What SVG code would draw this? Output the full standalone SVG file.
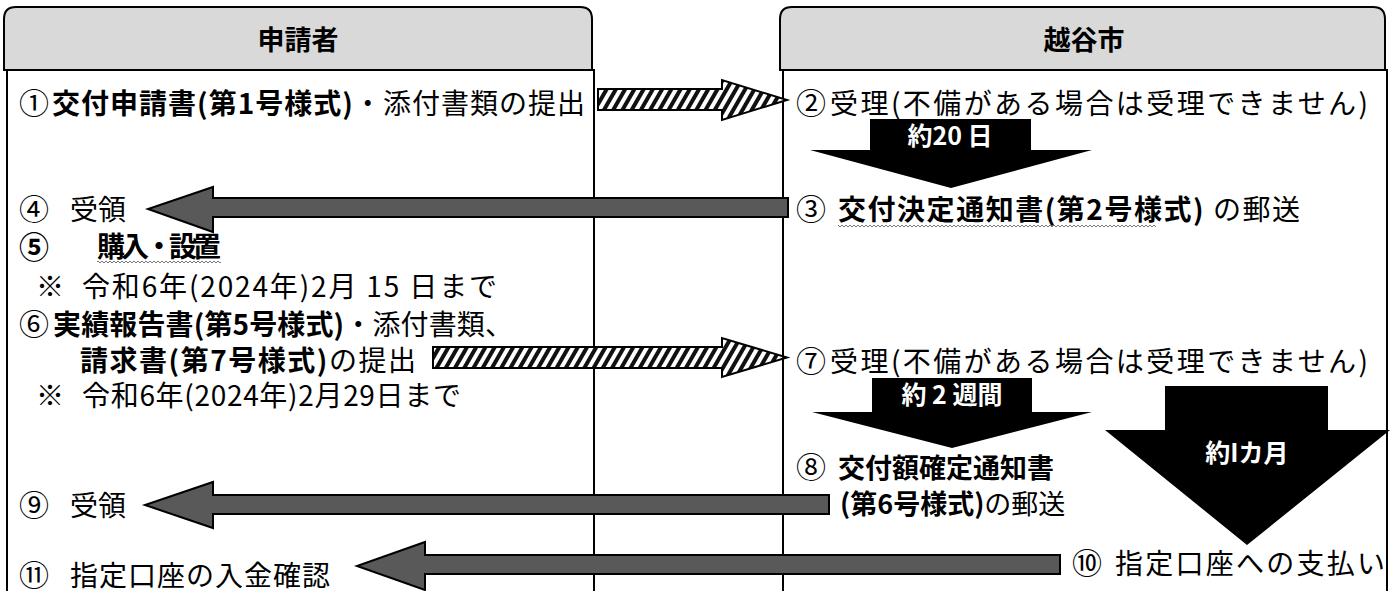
<svg xmlns="http://www.w3.org/2000/svg" width="1393" height="591" viewBox="0 0 1393 591">
<style>
text{font-family:"Noto Sans CJK JP","Noto Sans CJK SC",sans-serif;fill:#000}
.t{font-size:28px}
.c{font-size:30px}
.b{font-weight:bold}
.h{font-size:27px;font-weight:bold}
.lab{font-size:25px;font-weight:bold;fill:#fff}
.box{fill:#fff;stroke:#000;stroke-width:2}
.hdr{fill:#d9d9d9;stroke:#000;stroke-width:2}
.gray{fill:#595959;stroke:#000;stroke-width:2;stroke-linejoin:miter}
.hatch{fill:url(#stripe);stroke:#000;stroke-width:2}
.blk{fill:#000}
</style>
<defs>
<pattern id="stripe" width="8" height="8" patternUnits="userSpaceOnUse" patternTransform="rotate(30)">
<rect width="8" height="8" fill="#fff"/>
<rect width="4" height="8" fill="#111"/>
</pattern>
<pattern id="wave" width="4" height="4" patternUnits="userSpaceOnUse">
<path d="M0 3 L2 1 L4 3" fill="none" stroke="#666" stroke-width="0.9"/>
</pattern>
</defs>
<rect width="1393" height="591" fill="#fff"/>

<g id="lane-left">
<rect class="box" x="7" y="70" width="587" height="540"/>
<path class="hdr" d="M4 70 V19 Q4 7 16 7 H580 Q592 7 592 19 V70 Z"/>
<text class="h" x="298" y="50" text-anchor="middle">申請者</text>
</g>
<g id="lane-right">
<rect class="box" x="783" y="70" width="604" height="540"/>
<path class="hdr" d="M780 70 V19 Q780 7 792 7 H1373 Q1385 7 1385 19 V70 Z"/>
<text class="h" x="1084" y="50" text-anchor="middle">越谷市</text>
</g>

<g id="connectors">
<polygon class="hatch" points="598,89 722,89 722,80 787,100 722,120 722,110 598,110"/>
<polygon class="hatch" points="433,347 722,347 722,338 787,357.5 722,377 722,368 433,368"/>
<polygon class="gray" points="788,198 213,198 213,187 148,209 213,232 213,217 788,217"/>
<polygon class="gray" points="829,495 213,495 213,482 145,505 213,528 213,514 829,514"/>
<polygon class="gray" points="1060,555 425,555 425,542 357,566 425,590 425,574 1060,574"/>
<polygon class="blk" points="870,119 1031,119 1031,150 1092,150 951,188 810,150 870,150"/>
<polygon class="blk" points="872,378 1032,378 1032,412 1092,412 952,448 812,412 872,412"/>
<polygon class="blk" points="1165,386 1328,386 1328,430 1390,430 1247,545 1105,430 1165,430"/>
<text class="lab" x="950" y="145" text-anchor="middle">約20 日</text>
<text class="lab" x="952" y="404" text-anchor="middle">約 2 週間</text>
<text class="lab" x="1247" y="462" text-anchor="middle">約Iカ月</text>
</g>

<g id="step1">
<text class="c" x="19" y="114">①</text>
<text class="t" x="52" y="114" textLength="533" lengthAdjust="spacing"><tspan class="b">交付申請書(第1号様式)</tspan>・添付書類の提出</text>
</g>
<g id="step2">
<text class="c" x="796" y="114">②</text>
<text class="t" x="830" y="114" textLength="538" lengthAdjust="spacing">受理(不備がある場合は受理できません)</text>
</g>
<g id="step3">
<text class="c" x="796" y="220">③</text>
<text class="t" x="838" y="220" textLength="462" lengthAdjust="spacing"><tspan class="b">交付決定通知書(第2号様式)</tspan> の郵送</text>
<rect x="838" y="224" width="318" height="4" fill="url(#wave)"/>
</g>
<g id="step4">
<text class="c" x="19" y="220">④</text>
<text class="t" x="70" y="220">受領</text>
</g>
<g id="step5">
<text class="c b" x="19" y="258">⑤</text>
<text class="t b" x="97" y="257" textLength="124" lengthAdjust="spacing">購入・設置</text>
<rect x="97" y="261" width="124" height="4" fill="url(#wave)"/>
<text class="t" x="36" y="297">※</text>
<text class="t" x="82" y="297" textLength="415" lengthAdjust="spacing">令和6年(2024年)2月 15 日まで</text>
</g>
<g id="step6">
<text class="c" x="19" y="335">⑥</text>
<text class="t" x="53" y="335" textLength="460" lengthAdjust="spacing"><tspan class="b">実績報告書(第5号様式)</tspan>・添付書類、</text>
<text class="t" x="80" y="371" textLength="336" lengthAdjust="spacing"><tspan class="b">請求書(第7号様式)</tspan>の提出</text>
<text class="t" x="36" y="406">※</text>
<text class="t" x="82" y="406" textLength="379" lengthAdjust="spacing">令和6年(2024年)2月29日まで</text>
</g>
<g id="step7">
<text class="c" x="796" y="372">⑦</text>
<text class="t" x="830" y="372" textLength="538" lengthAdjust="spacing">受理(不備がある場合は受理できません)</text>
</g>
<g id="step8">
<text class="c" x="796" y="478">⑧</text>
<text class="b" x="838" y="478" style="font-size:27px">交付額確定通知書</text>
<text class="t" x="840" y="514" style="font-size:27px"><tspan class="b">(第6号様式)</tspan>の郵送</text>
</g>
<g id="step9">
<text class="c" x="19" y="516">⑨</text>
<text class="t" x="70" y="516">受領</text>
</g>
<g id="step10">
<text class="c" x="1072" y="574">⑩</text>
<text class="t" x="1115" y="574" textLength="270" lengthAdjust="spacing">指定口座への支払い</text>
</g>
<g id="step11">
<text class="c" x="19" y="586">⑪</text>
<text class="t" x="70" y="586" textLength="260" lengthAdjust="spacing">指定口座の入金確認</text>
</g>
</svg>
